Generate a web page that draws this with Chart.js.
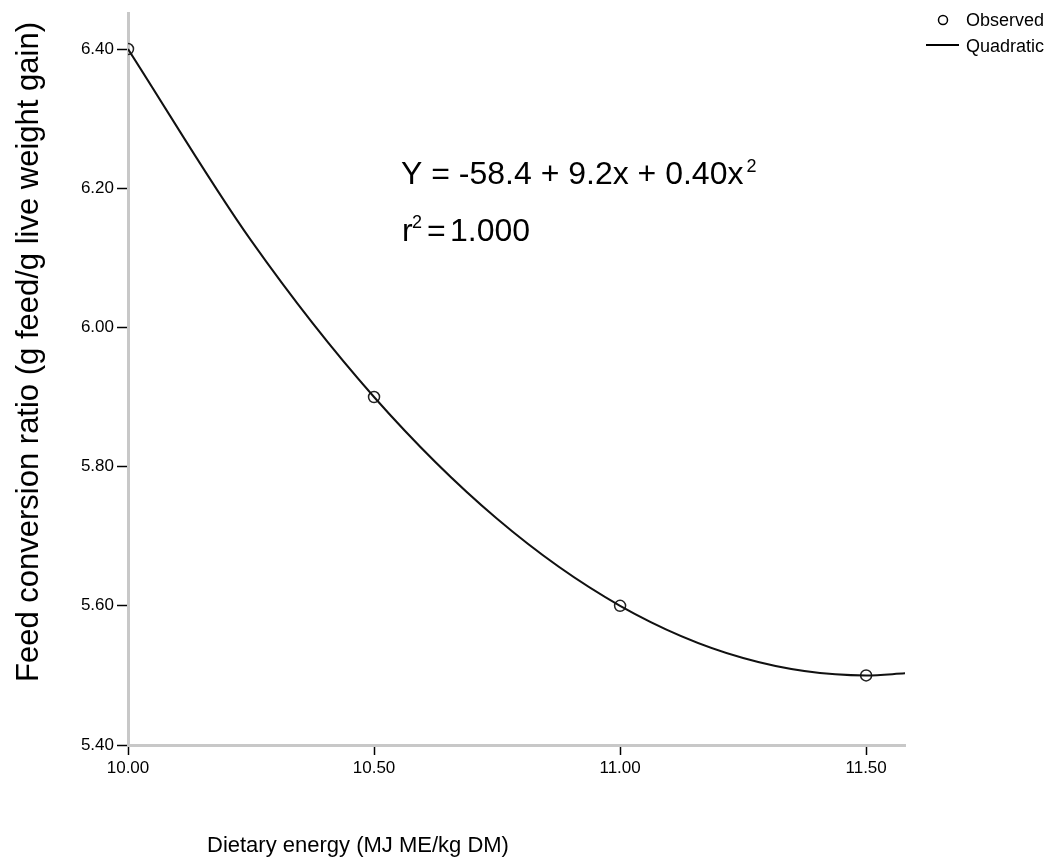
<!DOCTYPE html>
<html>
<head>
<meta charset="utf-8">
<script src="https://cdn.jsdelivr.net/npm/chart.js@4.4.1/dist/chart.umd.min.js"></script>
<style>
  html, body { margin: 0; padding: 0; background: #fff; }
  #wrap { width: 1056px; height: 863px; position: relative; }
</style>
</head>
<body>
<div id="wrap"><canvas id="fcrChart" width="1056" height="863"></canvas></div>
<script>
// Observed points
const energyLevels = [10.0, 10.5, 11.0, 11.5];
const observedFcr = [6.40, 5.90, 5.60, 5.50];

// Fitted quadratic curve
const curveX = [10.0, 10.25, 10.5, 10.75, 11.0, 11.25, 11.5, 11.58];
const curveY = [6.40, 6.125, 5.90, 5.725, 5.60, 5.525, 5.50, 5.503];

// Tick labels
const xTicks = [10.0, 10.5, 11.0, 11.5];
const yTicks = [5.4, 5.6, 5.8, 6.0, 6.2, 6.4];

const FONT = 'Arial, "Liberation Sans", sans-serif';

// draws axis titles, equation and legend at fixed spots
const annotations = {
  id: 'annotations',
  afterDraw(chart) {
    const ctx = chart.ctx;
    ctx.save();
    ctx.fillStyle = '#000';
    ctx.textBaseline = 'alphabetic';

    // y title
    ctx.save();
    ctx.translate(38, 352);
    ctx.rotate(-Math.PI / 2);
    ctx.textAlign = 'center';
    ctx.font = '31px ' + FONT;
    ctx.fillText('Feed conversion ratio (g feed/g live weight gain)', 0, 0);
    ctx.restore();

    // x title
    ctx.textAlign = 'left';
    ctx.font = '22px ' + FONT;
    ctx.fillText('Dietary energy (MJ ME/kg DM)', 207, 852);

    // equation
    ctx.font = '32px ' + FONT;
    const eq = 'Y = -58.4 + 9.2x + 0.40x';
    ctx.fillText(eq, 401, 184);
    const w = ctx.measureText(eq).width;
    ctx.font = '18px ' + FONT;
    ctx.fillText('2', 401 + w + 3, 172);

    ctx.font = '32px ' + FONT;
    ctx.fillText('r', 402, 241);
    ctx.font = '18px ' + FONT;
    ctx.fillText('2', 412, 228);
    ctx.font = '32px ' + FONT;
    ctx.fillText('=', 427, 241);
    ctx.fillText('1.000', 450, 241);

    // legend
    ctx.font = '18px ' + FONT;
    ctx.textBaseline = 'middle';
    ctx.fillText('Observed', 966, 21);
    ctx.fillText('Quadratic', 966, 47);
    ctx.strokeStyle = '#000';
    ctx.lineWidth = 1.5;
    ctx.beginPath();
    ctx.arc(943, 20, 4.5, 0, Math.PI * 2);
    ctx.stroke();
    ctx.lineWidth = 2;
    ctx.beginPath();
    ctx.moveTo(926, 45);
    ctx.lineTo(959, 45);
    ctx.stroke();
    ctx.restore();
  }
};

const ctx = document.getElementById('fcrChart').getContext('2d');
new Chart(ctx, {
  type: 'scatter',
  data: {
    datasets: [
      {
        label: 'Quadratic',
        data: curveX.map((x, i) => ({ x: x, y: curveY[i] })),
        showLine: true,
        borderColor: '#111',
        borderWidth: 2,
        pointRadius: 0,
        cubicInterpolationMode: 'monotone',
        fill: false
      },
      {
        label: 'Observed',
        data: energyLevels.map((x, i) => ({ x: x, y: observedFcr[i] })),
        showLine: false,
        pointRadius: 5.5,
        pointBorderWidth: 1.5,
        pointBackgroundColor: 'rgba(0,0,0,0)',
        pointBorderColor: '#222'
      }
    ]
  },
  options: {
    responsive: false,
    animation: false,
    layout: { padding: { left: 0, right: 151, top: 10, bottom: 0 } },
    plugins: {
      legend: { display: false },
      tooltip: { enabled: false }
    },
    scales: {
      x: {
        type: 'linear',
        min: 10.0,
        max: 11.579,
        afterBuildTicks(scale) {
          scale.ticks = xTicks.map(v => ({ value: v }));
        },
        afterFit(scale) { scale.height = 118; },
        ticks: {
          color: '#000',
          font: { family: FONT, size: 17 },
          padding: 3,
          maxRotation: 0,
          callback: v => v.toFixed(2)
        },
        grid: {
          drawOnChartArea: false,
          tickLength: 10,
          tickColor: '#000',
          tickWidth: 1.5
        },
        border: { color: '#c8c8c8', width: 3 }
      },
      y: {
        type: 'linear',
        min: 5.4,
        max: 6.4515,
        afterBuildTicks(scale) {
          scale.ticks = yTicks.map(v => ({ value: v }));
        },
        afterFit(scale) { scale.width = 128; },
        ticks: {
          color: '#000',
          font: { family: FONT, size: 17 },
          padding: 3,
          callback: v => v.toFixed(2)
        },
        grid: {
          drawOnChartArea: false,
          tickLength: 11,
          tickColor: '#000',
          tickWidth: 1.5
        },
        border: { color: '#c8c8c8', width: 3 }
      }
    }
  },
  plugins: [annotations]
});
</script>
</body>
</html>
